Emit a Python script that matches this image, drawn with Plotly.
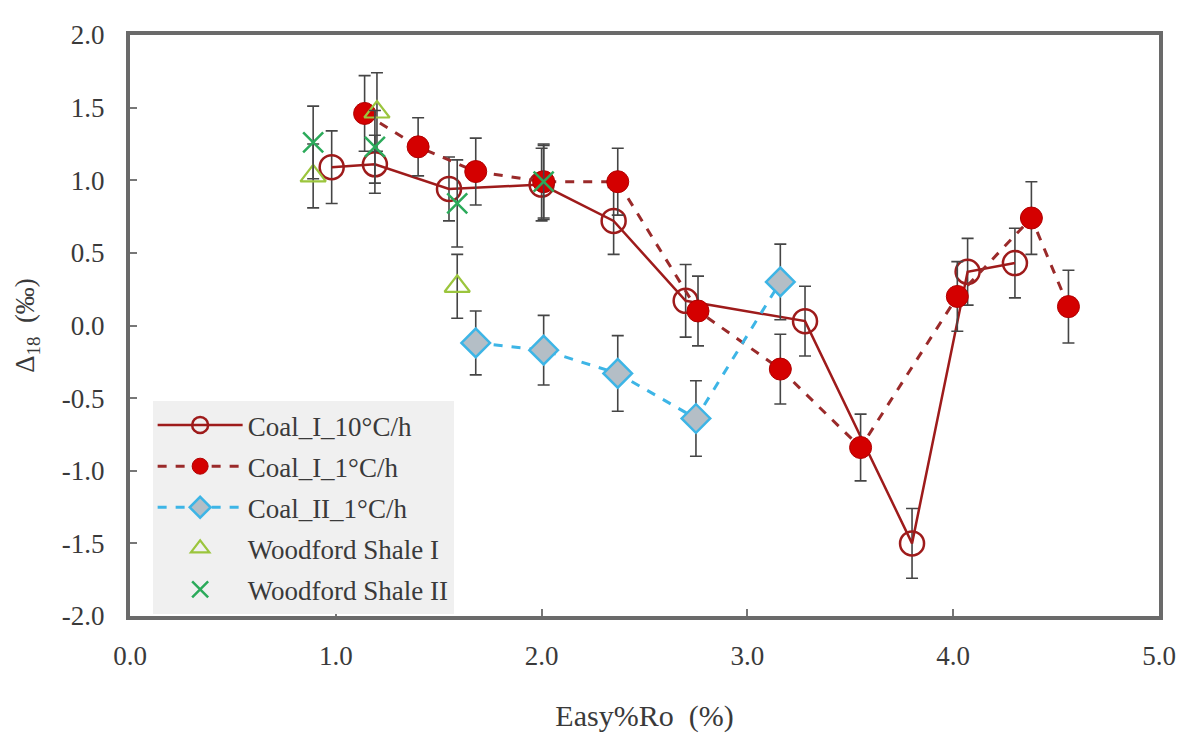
import plotly.graph_objects as go

# ---- data ----
c1_10_x = [0.98, 1.19, 1.55, 2.00, 2.35, 2.70, 3.28, 3.80, 4.07, 4.30]
c1_10_y = [1.09, 1.11, 0.94, 0.97, 0.72, 0.17, 0.03, -1.50, 0.37, 0.43]
c1_10_e = [0.25, 0.20, 0.22, 0.25, 0.23, 0.25, 0.24, 0.24, 0.23, 0.24]

c1_1_x = [1.14, 1.40, 1.68, 2.01, 2.37, 2.76, 3.16, 3.55, 4.02, 4.38, 4.56]
c1_1_y = [1.46, 1.23, 1.06, 0.99, 0.99, 0.10, -0.30, -0.84, 0.20, 0.74, 0.13]
c1_1_e = [0.26, 0.20, 0.23, 0.26, 0.23, 0.24, 0.24, 0.23, 0.24, 0.25, 0.25]

c2_1_x = [1.68, 2.01, 2.37, 2.75, 3.16]
c2_1_y = [-0.12, -0.17, -0.33, -0.64, 0.30]
c2_1_e = [0.22, 0.24, 0.26, 0.26, 0.26]

ws1_x = [0.89, 1.20, 1.59]
ws1_y = [1.03, 1.47, 0.27]
ws1_e = [0.22, 0.27, 0.22]

ws2_x = [0.89, 1.19, 1.59, 2.01]
ws2_y = [1.26, 1.23, 0.84, 0.99]
ws2_e = [0.25, 0.25, 0.30, 0.25]

x_ticks = [0, 1, 2, 3, 4, 5]
x_tick_labels = ["0.0", "1.0", "2.0", "3.0", "4.0", "5.0"]
y_ticks = [2.0, 1.5, 1.0, 0.5, 0.0, -0.5, -1.0, -1.5, -2.0]
y_tick_labels = ["2.0", "1.5", "1.0", "0.5", "0.0", "-0.5", "-1.0", "-1.5", "-2.0"]

FONT = "Liberation Serif"
TXT = "#3a3a3a"
ERR = dict(type="data", thickness=1.6, width=6, color="#454545")

fig = go.Figure()

fig.add_trace(go.Scatter(
    x=c1_10_x, y=c1_10_y, name="Coal_I_10°C/h", mode="lines+markers",
    line=dict(color="#9E1B1B", width=2.5),
    marker=dict(symbol="circle-open", size=24, color="#9E1B1B", line=dict(width=2.5)),
    error_y=dict(array=c1_10_e, **ERR), legendgroup="a"))

fig.add_trace(go.Scatter(
    x=c1_1_x, y=c1_1_y, name="Coal_I_1°C/h", mode="lines+markers",
    line=dict(color="#9A2A2A", width=3, dash="dash"),
    marker=dict(symbol="circle", size=22, color="#D40000", line=dict(width=1, color="#B00000")),
    error_y=dict(array=c1_1_e, **ERR), legendgroup="b"))

fig.add_trace(go.Scatter(
    x=c2_1_x, y=c2_1_y, name="Coal_II_1°C/h", mode="lines+markers",
    line=dict(color="#3DB5E6", width=3, dash="dash"),
    marker=dict(symbol="diamond", size=22, color="#B4BEC6", line=dict(width=2.5, color="#3DB5E6")),
    error_y=dict(array=c2_1_e, **ERR), legendgroup="c"))

fig.add_trace(go.Scatter(
    x=ws1_x, y=ws1_y, name="Woodford Shale I", mode="markers",
    marker=dict(symbol="triangle-up-open", size=22, color="#9BC53D", line=dict(width=2.2)),
    error_y=dict(array=ws1_e, **ERR), legendgroup="d"))

fig.add_trace(go.Scatter(
    x=ws2_x, y=ws2_y, name="Woodford Shale II", mode="markers",
    marker=dict(symbol="x-thin", size=20, color="#2BAA5A", line=dict(width=2.5, color="#2BAA5A")),
    error_y=dict(array=ws2_e, **ERR), legendgroup="e"))

# the page body has an 8px default margin: compensate so the plot area
# sits at x 130..1168, y 25..620 in the 1188x740 window
fig.update_layout(
    width=1180, height=732,
    margin=dict(l=122, r=20, t=17, b=120),
    paper_bgcolor="white", plot_bgcolor="white",
    font=dict(family=FONT, size=27, color=TXT),
    showlegend=True,
    legend=dict(x=0.022, y=0.370, xanchor="left", yanchor="top",
                bgcolor="#F0F0F0", borderwidth=0,
                font=dict(family=FONT, size=27, color=TXT),
                itemwidth=85,
                traceorder="grouped", tracegroupgap=3),
    xaxis=dict(range=[0, 5], tickvals=x_ticks, ticktext=x_tick_labels,
               tickfont=dict(family=FONT, size=27, color=TXT),
               ticklabeloverflow="allow",
               ticks="inside", ticklen=7, tickwidth=1.5, tickcolor="#777",
               showgrid=False, zeroline=False,
               showline=True, linecolor="#6a6a6a", linewidth=4, mirror=True,
               ticklabelstandoff=13,
               title=dict(text="Easy%Ro  (%)", font=dict(family=FONT, size=30, color=TXT),
                          standoff=36)),
    yaxis=dict(range=[-2, 2], tickvals=y_ticks, ticktext=y_tick_labels,
               tickfont=dict(family=FONT, size=27, color=TXT),
               ticklabeloverflow="allow",
               ticks="inside", ticklen=7, tickwidth=1.5, tickcolor="#777",
               showgrid=False, zeroline=False,
               showline=True, linecolor="#6a6a6a", linewidth=4, mirror=True,
               ticklabelstandoff=16,
               title=dict(text="Δ<sub>18</sub>  (‰)", font=dict(family=FONT, size=27, color=TXT),
                          standoff=20)),
)

fig.write_html("out.html")
